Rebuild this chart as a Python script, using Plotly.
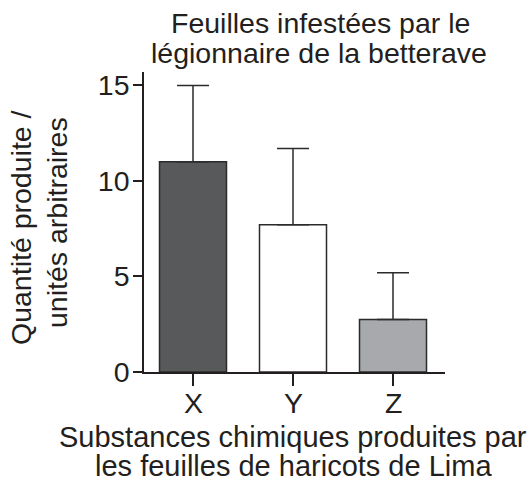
import plotly.graph_objects as go

categories = ["X", "Y", "Z"]
values = [11.0, 7.7, 2.75]
errors_up = [4.0, 4.0, 2.45]
bar_colors = ["#58595b", "#ffffff", "#a7a9ac"]
y_ticks = [0, 5, 10, 15]

title_lines = ["Feuilles infestées par le", "légionnaire de la betterave"]
xtitle_lines = ["Substances chimiques produites par", "les feuilles de haricots de Lima"]
ytitle_lines = ["Quantité produite /", "unités arbitraires"]

W, H = 532, 494
L, R, T, B = 144, 87, 72, 122
PW, PH = W - L - R, H - T - B
FONT = "Liberation Sans, Arial, sans-serif"
INK = "#231f20"


def px(x):
    return (x - L) / PW


def py(y):
    return (T + PH - y) / PH


fig = go.Figure()
fig.add_trace(go.Bar(
    x=categories, y=values, width=0.67,
    marker=dict(color=bar_colors, line=dict(color="#2b2b2b", width=1.5)),
    error_y=dict(type="data", array=errors_up, arrayminus=[0] * len(values),
                 symmetric=False, color="#2b2b2b", thickness=1.5, width=16),
))

annotations = []
for txt, yy, xx in zip(title_lines, [23, 53], [320, 319]):
    annotations.append(dict(text=txt, x=px(xx), y=py(yy), xref="paper", yref="paper",
                            xanchor="center", yanchor="middle", showarrow=False,
                            font=dict(size=28.5, family=FONT, color=INK)))
for txt, yy in zip(xtitle_lines, [437, 466]):
    annotations.append(dict(text=txt, x=px(293), y=py(yy), xref="paper", yref="paper",
                            xanchor="center", yanchor="middle", showarrow=False,
                            font=dict(size=29, family=FONT, color=INK)))
for txt, xx, yy in zip(ytitle_lines, [21, 57], [228, 223]):
    annotations.append(dict(text=txt, x=px(xx), y=py(yy), xref="paper", yref="paper",
                            xanchor="center", yanchor="middle", showarrow=False, textangle=-90,
                            font=dict(size=28.5, family=FONT, color=INK)))
for cat in categories:
    annotations.append(dict(text=cat, x=cat, y=py(403), xref="x", yref="paper",
                            xanchor="center", yanchor="middle", showarrow=False,
                            font=dict(size=28.5, family=FONT, color=INK)))

fig.update_layout(
    width=W, height=H,
    margin=dict(l=L, r=R, t=T, b=B, pad=0),
    paper_bgcolor="white", plot_bgcolor="white",
    showlegend=False,
    font=dict(family=FONT, size=28.5, color=INK),
    annotations=annotations,
    xaxis=dict(range=[-0.49, 2.52], showline=True, linecolor="#231f20", linewidth=1.5,
               ticks="outside", ticklen=12, tickwidth=1.5, tickcolor="#231f20",
               showticklabels=False,
               showgrid=False, zeroline=False),
    yaxis=dict(range=[0, 15.7], tickvals=y_ticks, showline=True, linecolor="#231f20",
               linewidth=1.5, ticks="outside", ticklen=9, tickwidth=1.5, tickcolor="#231f20",
               ticklabelstandoff=-2,
               showgrid=False, zeroline=False, tickfont=dict(size=28.5)),
)

fig.write_html("out.html", config={"displayModeBar": False},
               post_script="document.body.style.margin='0';")
